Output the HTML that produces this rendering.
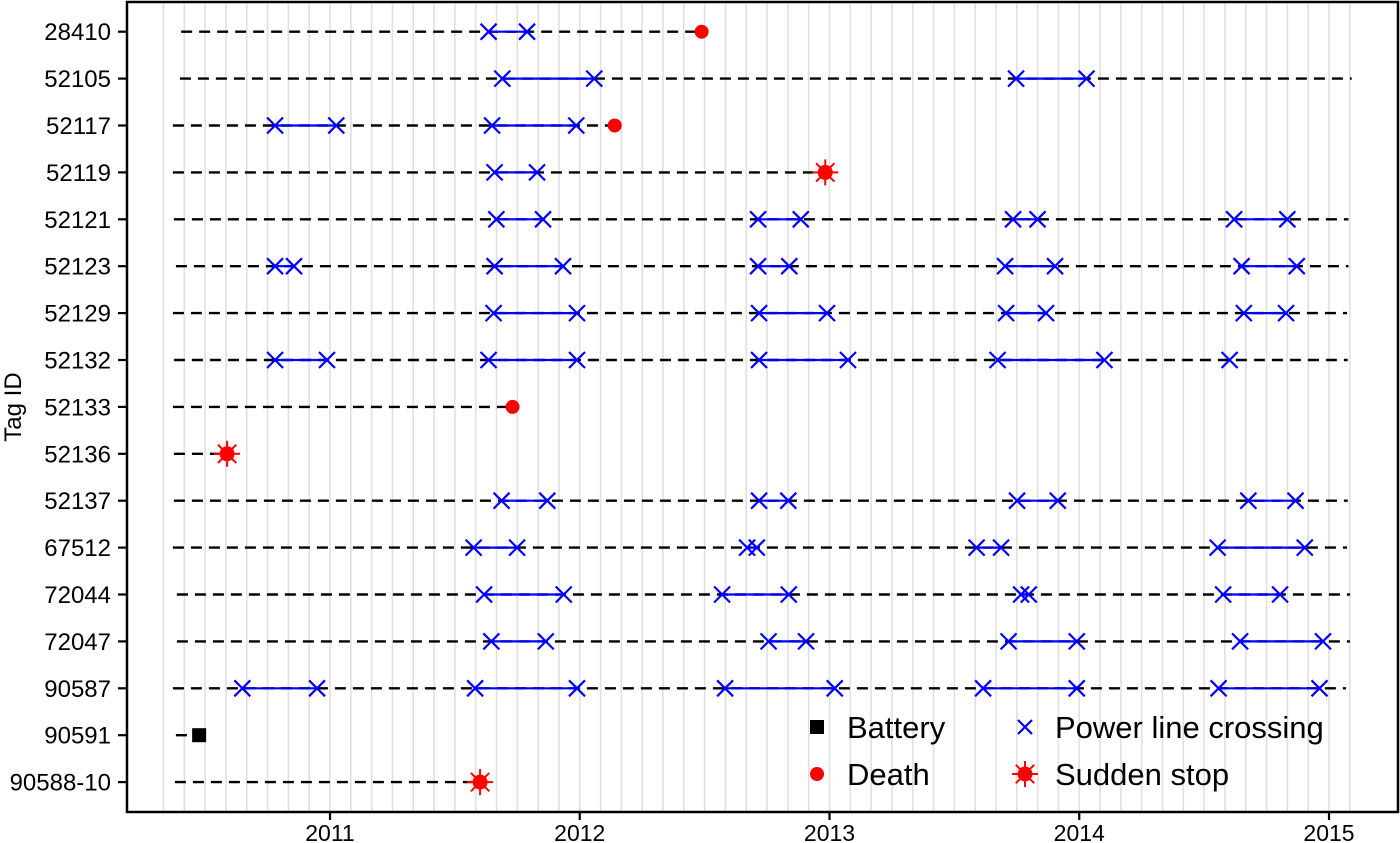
<!DOCTYPE html>
<html><head><meta charset="utf-8"><style>
html,body{margin:0;padding:0;background:#fff;}
svg{display:block;font-family:"Liberation Sans",Arial,sans-serif;}
</style></head><body>
<svg id="chart" width="1400" height="843" viewBox="0 0 1400 843" xmlns="http://www.w3.org/2000/svg">
<g id="grid"></g>
<g id="marks"></g>
<rect x="127" y="2" width="1271" height="810" fill="none" stroke="#000" stroke-width="2.5"/>
<g id="axes"></g>
<text transform="translate(21,407) rotate(-90)" text-anchor="middle" font-size="24">Tag ID</text>
<g>
  <rect x="810" y="720" width="14" height="14" fill="#000"/>
  <text x="847" y="738" font-size="31">Battery</text>
  <circle cx="817" cy="774" r="7" fill="#f00"/>
  <text x="847" y="785" font-size="31">Death</text>
  <g stroke="#00f" stroke-width="2.2"><line x1="1018" y1="720" x2="1032" y2="734"/><line x1="1032" y1="720" x2="1018" y2="734"/></g>
  <text x="1055" y="738" font-size="31">Power line crossing</text>
  <g id="legendStop"></g>
  <text x="1055" y="785" font-size="31">Sudden stop</text>
</g>
</svg>
<script>
const tagIds = ["28410","52105","52117","52119","52121","52123","52129","52132","52133","52136","52137","67512","72044","72047","90587","90591","90588-10"];
const trackStart = [2010.404,2010.399,2010.371,2010.371,2010.375,2010.383,2010.371,2010.375,2010.371,2010.375,2010.375,2010.371,2010.387,2010.387,2010.371,2010.383,2010.379];
const trackEnd = [2012.488,2015.091,2012.140,2012.983,2015.078,2015.078,2015.072,2015.075,2011.731,2010.588,2015.075,2015.072,2015.084,2015.084,2015.068,2010.45,2011.601];
const endType = ["death","none","death","stop","none","none","none","none","death","stop","none","none","none","none","none","battery","stop"];
const endEvent = [2012.488,null,2012.140,2012.983,null,null,null,null,2011.731,2010.588,null,null,null,null,null,2010.476,2011.601];
const crossings = [
 [[2011.635,2011.789]],
 [[2011.690,2012.058],[2013.747,2014.029]],
 [[2010.780,2011.025],[2011.649,2011.986]],
 [[2011.659,2011.829]],
 [[2011.666,2011.853],[2012.714,2012.885],[2013.735,2013.833],[2014.620,2014.833]],
 [[2010.780,2010.856],[2011.659,2011.933],[2012.714,2012.839],[2013.703,2013.903],[2014.650,2014.871]],
 [[2011.655,2011.989],[2012.718,2012.990],[2013.707,2013.867],[2014.659,2014.828]],
 [[2010.780,2010.988],[2011.635,2011.989],[2012.718,2013.074],[2013.673,2014.101],[2014.602]],
 [],
 [],
 [[2011.687,2011.870],[2012.718,2012.835],[2013.751,2013.914],[2014.677,2014.866]],
 [[2011.575,2011.749],[2012.670,2012.709],[2013.589,2013.687],[2014.554,2014.903]],
 [[2011.617,2011.936],[2012.570,2012.837],[2013.767,2013.798],[2014.576,2014.804]],
 [[2011.646,2011.864],[2012.756,2012.906],[2013.717,2013.990],[2014.644,2014.976]],
 [[2010.649,2010.948],[2011.581,2011.989],[2012.582,2013.021],[2013.615,2013.990],[2014.558,2014.962]],
 [],
 []
];
const yearTicks = [2011,2012,2013,2014,2015];

const NS = "http://www.w3.org/2000/svg";
function xS(t){ return 330 + (t - 2011) * 249.75; }
function yS(i){ return 31.7 + i * 46.9; }
function mk(tag, attrs, parent){
  const e = document.createElementNS(NS, tag);
  for (const k in attrs) e.setAttribute(k, attrs[k]);
  parent.appendChild(e); return e;
}
const grid = document.getElementById('grid');
const marks = document.getElementById('marks');
const axes = document.getElementById('axes');

for (let m = 4; m <= 61; m++) {
  const t = 2010 + m / 12;
  const g = mk('line', {x1:xS(t), x2:xS(t), y1:3, y2:811, stroke:'#e0e0e0', 'stroke-width':1.6}, grid);
  
  
}

function drawStop(cx, cy, parent){
  const g = mk('g', {fill:'#f00', stroke:'#f00'}, parent);
  mk('circle', {cx:cx, cy:cy, r:7.5, stroke:'none'}, g);
  for (let k = 0; k < 8; k++) {
    const a = k * Math.PI / 4;
    mk('line', {x1:cx, y1:cy, x2:cx + 13 * Math.cos(a), y2:cy + 13 * Math.sin(a), 'stroke-width':2}, g);
  }
  return g;
}
function drawX(cx, cy, parent){
  const g = mk('g', {stroke:'#00f', 'stroke-width':2.2}, parent);
  mk('line', {x1:cx-8, y1:cy-8, x2:cx+8, y2:cy+8}, g);
  mk('line', {x1:cx-8, y1:cy+8, x2:cx+8, y2:cy-8}, g);
  return g;
}

tagIds.forEach((id, i) => {
  const y = yS(i);
  const lab = mk('text', {x:111, y:y + 8.5, 'text-anchor':'end', 'font-size':24}, axes);
  lab.textContent = id;
  
  
  mk('line', {x1:118, x2:127, y1:y, y2:y, stroke:'#000', 'stroke-width':2.2}, axes);

  const tr = mk('line', {x1:xS(trackStart[i]), x2:xS(trackEnd[i]), y1:y, y2:y, stroke:'#000', 'stroke-width':2.4, 'stroke-dasharray':'11 7'}, marks);
  
  

  crossings[i].forEach(pair => {
    if (pair.length === 2) {
      const seg = mk('line', {x1:xS(pair[0]), x2:xS(pair[1]), y1:y, y2:y, stroke:'#00f', 'stroke-width':2.2}, marks);
      
      
    }
    pair.forEach(t => {
      const xm = drawX(xS(t), y, marks);
      
      
    });
  });

  if (endType[i] === 'death') {
    const c = mk('circle', {cx:xS(endEvent[i]), cy:y, r:7, fill:'#f00'}, marks);
    
    
  } else if (endType[i] === 'stop') {
    const s = drawStop(xS(endEvent[i]), y, marks);
    
    
  } else if (endType[i] === 'battery') {
    const b = mk('rect', {x:xS(endEvent[i]) - 7, y:y - 7, width:14, height:14, fill:'#000'}, marks);
    
    
  }
});

yearTicks.forEach(yr => {
  mk('line', {x1:xS(yr), x2:xS(yr), y1:812, y2:820, stroke:'#000', 'stroke-width':2.2}, axes);
  const t = mk('text', {x:xS(yr), y:841, 'text-anchor':'middle', 'font-size':23}, axes);
  t.textContent = yr;
  
  
});

drawStop(1025, 774, document.getElementById('legendStop'));
</script>
</body></html>
